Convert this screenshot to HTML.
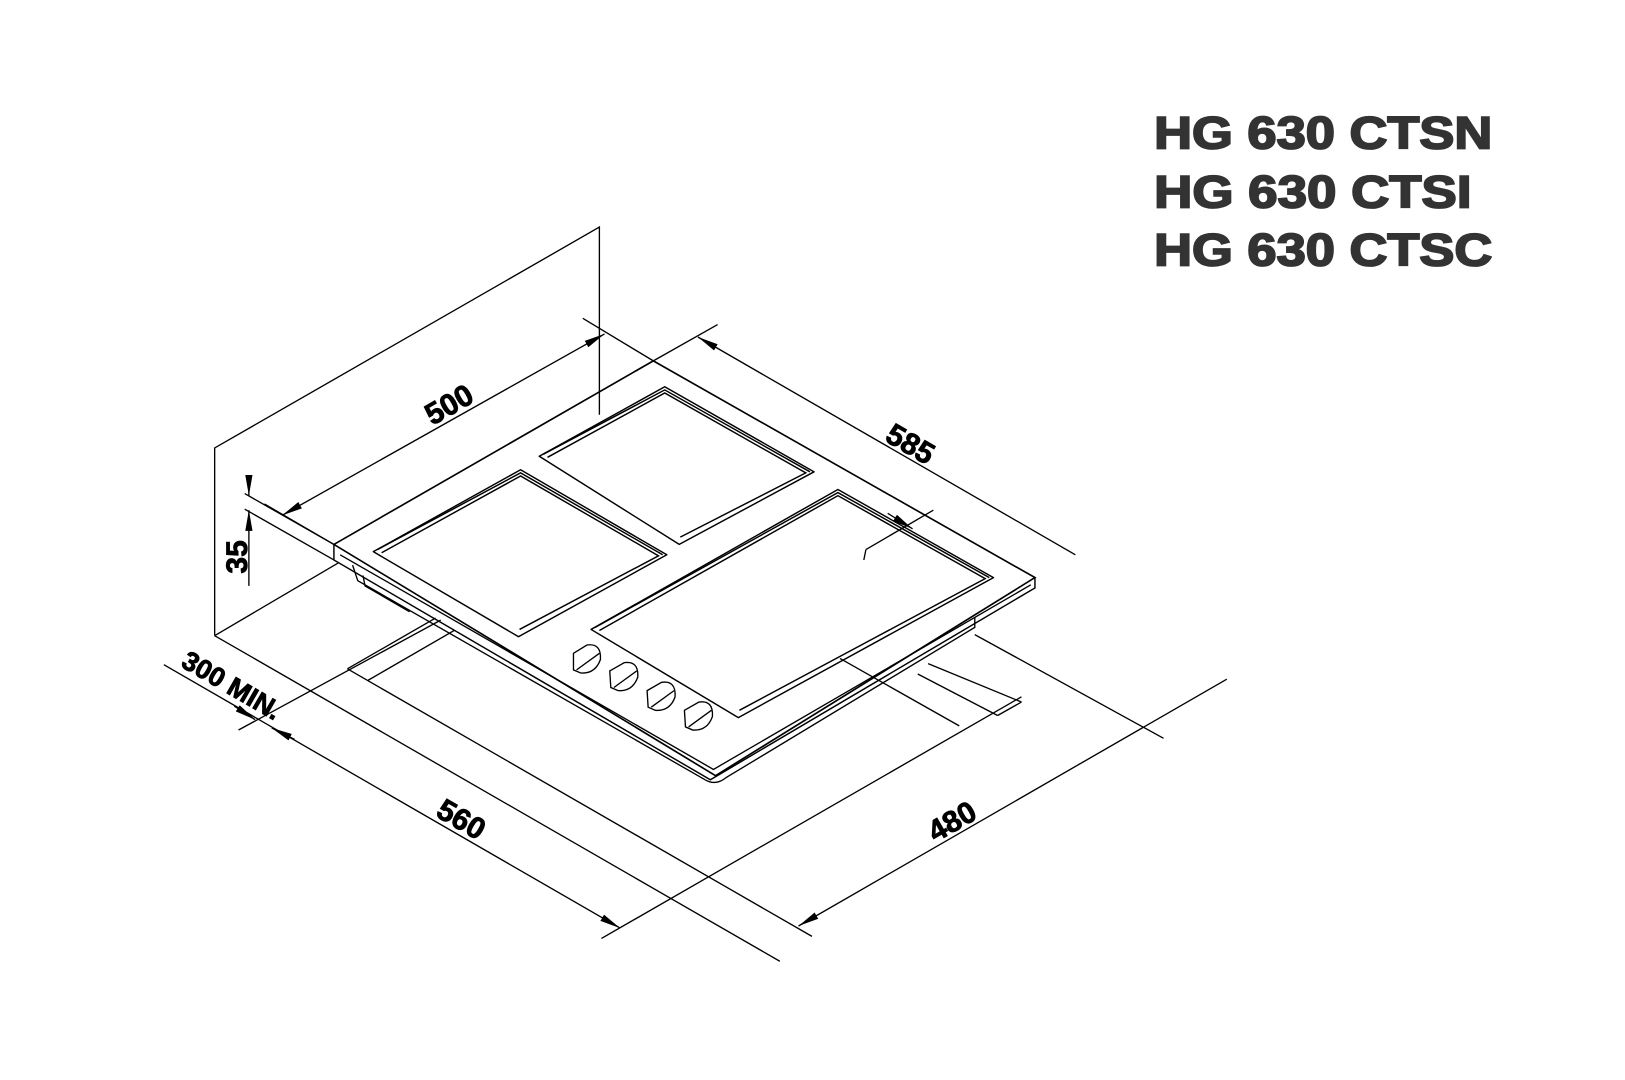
<!DOCTYPE html>
<html><head><meta charset="utf-8"><style>
html,body{margin:0;padding:0;background:#fff;}
svg{display:block;}
text{font-family:"Liberation Sans",sans-serif;font-weight:bold;}
</style></head><body>
<svg width="1625" height="1080" viewBox="0 0 1567 1041.5" preserveAspectRatio="none" xmlns="http://www.w3.org/2000/svg">
<defs>
<marker id="a" viewBox="0 0 20 8" refX="20" refY="4" markerWidth="20" markerHeight="8" markerUnits="userSpaceOnUse" orient="auto-start-reverse"><path d="M0,0.5 L20,4 L0,7.5 z" fill="#000"/></marker>
</defs>
<g fill="none" stroke="#000" stroke-width="1.3">
<polyline points="207,613 207,432 578,219 578,400"/>
<line x1="207" y1="613" x2="326" y2="543"/>
<line x1="207" y1="613" x2="752" y2="927"/>
<line x1="335" y1="645" x2="783" y2="903"/>
<line x1="335" y1="645" x2="420" y2="596"/>
<line x1="355" y1="656" x2="438" y2="608"/>
<line x1="940" y1="612" x2="1122" y2="712"/>
<line x1="895" y1="640" x2="985" y2="677"/>
<line x1="985" y1="677" x2="962" y2="690"/>
<line x1="885" y1="650" x2="962" y2="690"/>
<line x1="810" y1="635" x2="925" y2="700"/>
<line x1="158" y1="641" x2="598" y2="895" marker-end="url(#a)"/>
<line x1="230" y1="704" x2="425" y2="598"/>
<line x1="580" y1="905" x2="985" y2="672"/>
<line x1="226" y1="681" x2="246" y2="694" marker-end="url(#a)"/>
<line x1="284" y1="713" x2="262" y2="702" marker-end="url(#a)"/>
<line x1="1183" y1="655" x2="770" y2="893" marker-end="url(#a)"/>
<line x1="272" y1="497" x2="583" y2="322" marker-start="url(#a)" marker-end="url(#a)"/>
<line x1="562" y1="307" x2="630" y2="348"/>
<line x1="673" y1="325" x2="1037" y2="535" marker-start="url(#a)"/>
<line x1="630" y1="348" x2="692" y2="313"/>
<line x1="240" y1="460" x2="240" y2="478" marker-end="url(#a)"/>
<line x1="240" y1="565" x2="240" y2="492" marker-end="url(#a)"/>
<line x1="236" y1="476" x2="322" y2="525"/>
<line x1="236" y1="491" x2="322" y2="540"/>
<line x1="255" y1="486" x2="322" y2="525"/>
<path d="M322,525 L630,348 L998,557 L690,748 Z" stroke-width="1.6"/>
<path d="M322,525 L322,540 L685,752 L998,567 L998,557" stroke-width="1.4"/>
<path d="M328,535 L688,742 L994,564"/>
<path d="M340,545 L345,560 L680,752"/>
<path d="M680,752 Q690,758 700,750 L940,605 L940,595"/>
<path d="M350,555 L352,565 L395,590"/>
<g stroke-width="1.4">
<path d="M520,440 L641,373 L785,455 L655,525 Z" stroke-linejoin="round"/>
<path d="M528,441 L641,379 L777,456 L656,518"/>
<path d="M524,438 L641,376 L781,455"/>
<path d="M360,532 L502,453 L643,535 L500,614 Z" stroke-linejoin="round"/>
<path d="M368,533 L502,459 L635,536 L501,607"/>
<path d="M364,530 L502,456 L639,535"/>
<path d="M570,607 L808,472 L958,557 L712,692 Z" stroke-linejoin="round"/>
<path d="M578,608 L808,478 L950,558 L713,685"/>
<path d="M574,605 L808,475 L954,557"/>
</g>
<line x1="900" y1="492" x2="835" y2="530"/>
<line x1="835" y1="530" x2="833" y2="540"/>
<line x1="856" y1="495" x2="880" y2="510" marker-end="url(#a)"/>
<g stroke-width="1.3">
<path d="M553,630 L566,622 Q580,620 579,636 Q574,650 560,649 L553,646 Z"/><line x1="556" y1="646" x2="578" y2="630"/>
<path d="M588,647 L602,639 Q616,637 615,653 Q610,667 596,666 L589,663 Z"/><line x1="592" y1="663" x2="614" y2="647"/>
<path d="M624,666 L638,658 Q652,656 651,672 Q646,686 632,685 L625,682 Z"/><line x1="628" y1="682" x2="650" y2="666"/>
<path d="M660,685 L674,677 Q688,675 687,691 Q682,705 668,704 L661,701 Z"/><line x1="664" y1="701" x2="686" y2="685"/>
</g>
</g>
<g fill="#000" stroke="#000" stroke-width="0.8" font-size="29">
<text x="433" y="400" text-anchor="middle" transform="rotate(-30 433 390)">500</text>
<text x="878" y="438" text-anchor="middle" transform="rotate(30 878 428)">585</text>
<text x="445" y="800" text-anchor="middle" transform="rotate(30 445 790)">560</text>
<text x="918" y="802" text-anchor="middle" transform="rotate(-30 918 792)">480</text>
<text x="224" y="670" text-anchor="middle" font-size="26" transform="rotate(30 224 660)">300 MIN.</text>
<text x="228" y="547" text-anchor="middle" transform="rotate(-90 228 537)">35</text>
</g>
<g fill="#333" stroke="#333" stroke-width="1.8" font-size="44">
<text x="1113" y="143" textLength="326" lengthAdjust="spacingAndGlyphs">HG 630 CTSN</text>
<text x="1113" y="200" textLength="306" lengthAdjust="spacingAndGlyphs">HG 630 CTSI</text>
<text x="1113" y="256" textLength="326" lengthAdjust="spacingAndGlyphs">HG 630 CTSC</text>
</g>
</svg>
</body></html>
